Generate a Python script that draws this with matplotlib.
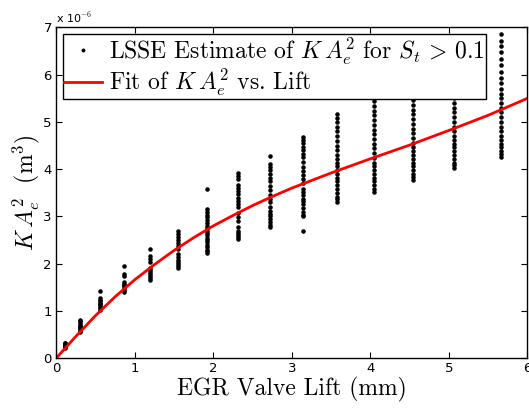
import matplotlib
matplotlib.use("Agg")
import matplotlib.pyplot as plt

plt.rcParams['mathtext.fontset'] = 'cm'
plt.rcParams['axes.unicode_minus'] = False

# lift positions (mm) of each group of estimates
lifts = [0.11, 0.31, 0.56, 0.86, 1.19, 1.55, 1.92, 2.32, 2.72, 3.14, 3.58, 4.05, 4.54, 5.07, 5.66]

# LSSE estimates of K*Ae^2 (x 1e-6 m^3) per lift
estimates = [
    [0.22, 0.24, 0.26, 0.27, 0.29, 0.30, 0.32, 0.33],
    [0.55, 0.58, 0.62, 0.64, 0.66, 0.68, 0.71, 0.74, 0.78, 0.81],
    [1.03, 1.06, 1.09, 1.12, 1.15, 1.18, 1.21, 1.24, 1.28, 1.43],
    [1.40, 1.44, 1.48, 1.52, 1.55, 1.58, 1.62, 1.75, 1.78, 1.96],
    [1.65, 1.70, 1.74, 1.78, 1.82, 1.86, 1.90, 2.04, 2.10, 2.16, 2.32],
    [1.92, 1.95, 1.99, 2.03, 2.08, 2.15, 2.20, 2.32, 2.38, 2.44, 2.50, 2.56, 2.62, 2.69],
    [2.22, 2.26, 2.30, 2.35, 2.40, 2.45, 2.50, 2.55, 2.60, 2.65, 2.70, 2.75, 2.80, 2.86,
     2.92, 2.98, 3.04, 3.10, 3.16, 3.58],
    [2.52, 2.56, 2.60, 2.65, 2.70, 2.78, 2.90, 2.98, 3.08, 3.20, 3.26, 3.32, 3.40, 3.47,
     3.54, 3.60, 3.66, 3.80, 3.86, 3.92],
    [2.77, 2.82, 2.88, 2.94, 3.00, 3.06, 3.12, 3.20, 3.30, 3.38, 3.45, 3.55, 3.65, 3.75,
     3.82, 3.90, 3.98, 4.05, 4.12, 4.28],
    [2.70, 3.00, 3.04, 3.10, 3.18, 3.26, 3.32, 3.38, 3.46, 3.52, 3.58, 3.70, 3.80, 3.88,
     3.96, 4.05, 4.15, 4.25, 4.32, 4.40, 4.48, 4.55, 4.62, 4.68],
    [3.30, 3.36, 3.42, 3.50, 3.58, 3.66, 3.74, 3.82, 3.90, 3.98, 4.06, 4.14, 4.22, 4.30,
     4.40, 4.50, 4.60, 4.70, 4.80, 4.90, 5.00, 5.08, 5.16],
    [3.52, 3.58, 3.66, 3.74, 3.82, 3.90, 3.98, 4.06, 4.14, 4.24, 4.34, 4.44, 4.54, 4.64,
     4.74, 4.84, 4.94, 5.04, 5.14, 5.24, 5.34, 5.44, 5.54, 5.64, 5.80],
    [3.78, 3.84, 3.90, 3.98, 4.06, 4.14, 4.22, 4.30, 4.38, 4.46, 4.56, 4.66, 4.76, 4.86,
     4.96, 5.06, 5.16, 5.26, 5.36, 5.46, 5.56, 5.66, 5.80, 6.00],
    [4.02, 4.08, 4.14, 4.22, 4.30, 4.38, 4.46, 4.54, 4.62, 4.70, 4.80, 4.90, 5.00, 5.10,
     5.20, 5.30, 5.40, 5.50, 5.60, 5.70, 5.85, 6.00, 6.20],
    [4.26, 4.32, 4.38, 4.46, 4.54, 4.62, 4.70, 4.80, 4.90, 5.00, 5.10, 5.20, 5.30, 5.40,
     5.50, 5.60, 5.70, 5.82, 5.94, 6.06, 6.20, 6.34, 6.48, 6.60, 6.72, 6.85],
]

# fitted curve
fit_lift = [0, 0.25, 0.5, 0.75, 1, 1.25, 1.5, 1.75, 2, 2.25, 2.5, 2.75, 3, 3.25, 3.5,
            3.75, 4, 4.5, 5, 5.5, 6]
fit_val = [0, 0.46, 0.90, 1.30, 1.66, 1.98, 2.28, 2.55, 2.80, 3.02, 3.23, 3.42, 3.60,
           3.76, 3.92, 4.07, 4.22, 4.51, 4.82, 5.14, 5.50]

fig = plt.figure(figsize=(5.29, 4.09), dpi=100)
ax = fig.add_axes([0.106, 0.124, 0.891, 0.809])

xs, ys = [], []
for lift, vals in zip(lifts, estimates):
    xs += [lift] * len(vals)
    ys += vals
ax.plot(xs, ys, linestyle='none', marker='.', color='black', markersize=4.5,
        label=r'LSSE Estimate of $K\,A_e^2$ for $S_t\,>\,0.1$')
ax.plot(fit_lift, fit_val, color='red', linewidth=2,
        label=r'Fit of $K\,A_e^2$ vs. Lift')

ax.set_xlim(0, 6)
ax.set_ylim(0, 7)
ax.set_xticks(range(0, 7))
ax.set_yticks(range(0, 8))
ax.tick_params(direction='in', top=True, right=True, length=4, labelsize=9.5, pad=3)
for s in ax.spines.values():
    s.set_linewidth(1.0)

ax.set_xlabel('EGR Valve Lift (mm)', family='cmr10', fontsize=17, labelpad=1)
ax.set_ylabel(r'$K\,A_e^2\ \ (\mathrm{m}^3)$', fontsize=17, labelpad=1)
ax.text(0.0, 1.008, r'x 10$^{-6}$', transform=ax.transAxes, fontsize=8, va='bottom', ha='left')

leg = ax.legend(loc='upper left', prop={'family': 'cmr10', 'size': 17}, fancybox=False,
                framealpha=1, edgecolor='black', borderpad=0.05, handlelength=1.6,
                handletextpad=0.3, labelspacing=0.0, borderaxespad=0.3, markerscale=0.8)
leg.get_frame().set_linewidth(1.0)

fig.savefig('out.png', dpi=100)
